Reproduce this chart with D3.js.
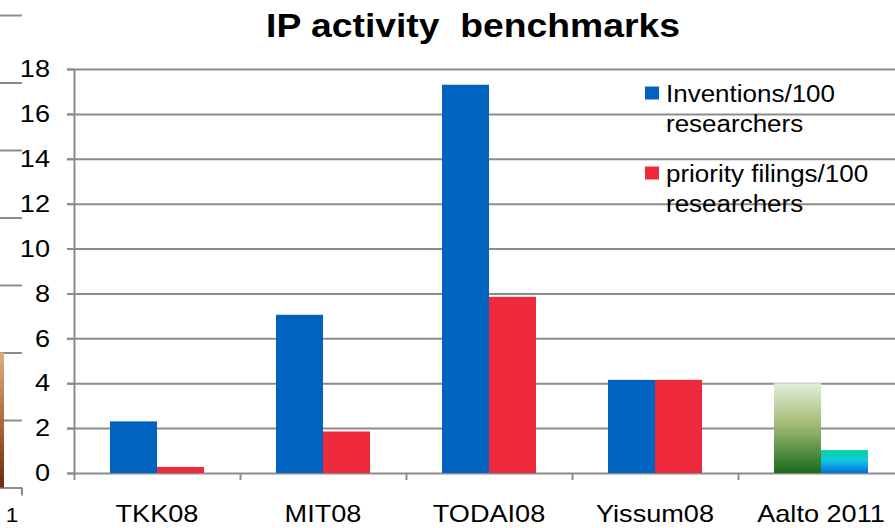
<!DOCTYPE html>
<html>
<head>
<meta charset="utf-8">
<script src="https://cdn.jsdelivr.net/npm/d3@7"></script>
<style>
  body { margin: 0; background: #fff; }
  svg { display: block; font-family: "Liberation Sans", Arial, sans-serif; }
  .grid line { stroke: #8c8c8c; stroke-width: 2; }
  .grid path { display: none; }
</style>
</head>
<body>
<div class="chart"></div>
<script>
// data
const categories = ["TKK08", "MIT08", "TODAI08", "Yissum08", "Aalto 2011"];
const series = ["Inventions/100 researchers", "priority filings/100 researchers"];
const inventions = [2.3, 7.05, 17.3, 4.15, 4.0];
const filings = [0.27, 1.85, 7.85, 4.15, 1.02];
const yTicks = [0, 2, 4, 6, 8, 10, 12, 14, 16, 18];
// partly visible neighbour chart on the far left
const sideCats = ["1"];
const sideValues = [2];
const sideTicks = [0, 1, 2, 3, 4, 5, 6, 7];

const w = 895;
const h = 528;
const left = 74;
const top0 = 69;
const base = 473;
const sx = 1.13; // text in the picture is a bit wider than it is tall
const colors = ["#0063bf", "#ee293c"];

const svg = d3.select(".chart")
  .append("svg")
  .attr("width", w)
  .attr("height", h);

const defs = svg.append("defs");
function grad(id, stops) {
  const g = defs.append("linearGradient").attr("id", id)
    .attr("x1", 0).attr("y1", 0).attr("x2", 0).attr("y2", 1);
  stops.forEach(s => g.append("stop").attr("offset", s[0]).attr("stop-color", s[1]));
}
grad("green", [[0, "#e3eed8"], [0.45, "#a3bd78"], [1, "#1b6b1b"]]);
grad("aqua", [[0, "#00d4a4"], [0.45, "#14c6e0"], [1, "#0070dc"]]);
grad("brown", [[0, "#dcae82"], [0.5, "#b06a38"], [1, "#6a2c0e"]]);

const yScale = d3.scaleLinear().domain([0, 18]).range([base, top0]);
const xScale = d3.scaleBand().domain(categories).range([left, left + 5 * 166]);
const xEdge = d3.scaleLinear().domain([0, 5]).range([left, left + 5 * 166]);
const inner = d3.scaleBand().domain(series)
  .range([xScale.bandwidth() / 2 - 47, xScale.bandwidth() / 2 + 47]);

// left neighbour chart bits
const ySide = d3.scaleLinear().domain([0, 7]).range([487.5, 15]);
svg.append("g")
  .attr("class", "grid")
  .call(d3.axisRight(ySide).tickValues(sideTicks).tickSize(22).tickFormat(""));
svg.append("line")
  .attr("x1", 22).attr("x2", 22)
  .attr("y1", ySide(0)).attr("y2", ySide(0) + 8)
  .attr("stroke", "#8c8c8c").attr("stroke-width", 2);
svg.selectAll(".side-bar")
  .data(sideValues)
  .enter()
  .append("rect")
  .attr("x", 0)
  .attr("y", d => ySide(d))
  .attr("width", 4)
  .attr("height", d => ySide(0) - ySide(d))
  .attr("fill", "url(#brown)");
svg.selectAll(".side-label")
  .data(sideCats)
  .enter()
  .append("text")
  .attr("transform", `translate(12,522) scale(${sx},1)`)
  .attr("text-anchor", "middle")
  .attr("font-size", 20)
  .text(d => d);

// gridlines
svg.append("g")
  .attr("class", "grid")
  .attr("transform", `translate(67,0)`)
  .call(d3.axisRight(yScale).tickValues(yTicks).tickSize(w - 67).tickFormat(""));

// y axis
const yAxis = svg.append("g")
  .attr("transform", `translate(${left},0)`)
  .call(d3.axisLeft(yScale).tickValues(yTicks).tickSize(7).tickSizeOuter(0).tickPadding(17));
yAxis.select(".domain").attr("stroke", "#8c8c8c").attr("stroke-width", 2);
yAxis.selectAll(".tick line").attr("stroke", "#8c8c8c").attr("stroke-width", 2);
yAxis.selectAll(".tick text")
  .attr("font-size", 24)
  .attr("font-family", "Liberation Sans, Arial, sans-serif")
  .attr("fill", "#000")
  .attr("x", -24 / sx)
  .attr("transform", `scale(${sx},1)`);

// x axis boundary ticks
const xTicks = svg.append("g")
  .attr("transform", `translate(0,${base})`)
  .call(d3.axisBottom(xEdge).tickValues([0, 1, 2, 3, 4, 5]).tickSize(7).tickSizeOuter(0).tickFormat(""));
xTicks.select(".domain").remove();
xTicks.selectAll(".tick line").attr("stroke", "#8c8c8c").attr("stroke-width", 2);

// bars
const rows = categories.map((c, i) => ({ cat: c, vals: [inventions[i], filings[i]] }));
const groups = svg.selectAll(".cat")
  .data(rows)
  .enter()
  .append("g")
  .attr("class", "cat")
  .attr("transform", d => `translate(${xScale(d.cat)},0)`);

groups.selectAll("rect")
  .data(d => d.vals.map((v, j) => ({ s: series[j], v: v, j: j, cat: d.cat })))
  .enter()
  .append("rect")
  .attr("x", d => inner(d.s))
  .attr("y", d => yScale(d.v))
  .attr("width", inner.bandwidth())
  .attr("height", d => base - yScale(d.v))
  .attr("fill", d => {
    if (d.cat === "Aalto 2011") return d.j === 0 ? "url(#green)" : "url(#aqua)";
    return colors[d.j];
  });

// category labels
const xLab = svg.append("g")
  .attr("transform", `translate(0,${base})`)
  .call(d3.axisBottom(xScale).tickSize(0).tickPadding(0));
xLab.select(".domain").remove();
xLab.selectAll(".tick text")
  .attr("font-size", 24)
  .attr("font-family", "Liberation Sans, Arial, sans-serif")
  .attr("fill", "#000")
  .attr("dy", null)
  .attr("y", 49)
  .attr("transform", `scale(${sx},1)`);

// legend
const legendLines = [["Inventions/100", "researchers"], ["priority filings/100", "researchers"]];
const legend = svg.selectAll(".legend")
  .data(series)
  .enter()
  .append("g")
  .attr("class", "legend")
  .attr("transform", (d, i) => `translate(645,${86.5 + i * 80})`);

legend.append("rect")
  .attr("width", 14)
  .attr("height", 13)
  .attr("fill", (d, i) => colors[i]);

legend.each(function(d, i) {
  const g = d3.select(this);
  legendLines[i].forEach((t, k) => {
    g.append("text")
      .attr("transform", `translate(21,${15 + k * 30}) scale(${sx},1)`)
      .attr("font-size", 23)
      .attr("fill", "#000")
      .text(t);
  });
});

// title
svg.append("text")
  .attr("transform", `translate(473,37) scale(${sx},1)`)
  .attr("text-anchor", "middle")
  .attr("font-size", 33)
  .attr("font-weight", "bold")
  .style("white-space", "pre")
  .text("IP activity  benchmarks");
</script>
</body>
</html>
